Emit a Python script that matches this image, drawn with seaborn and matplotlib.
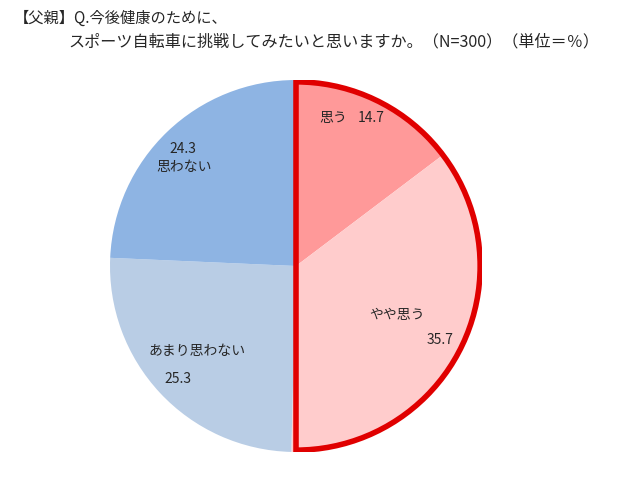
import matplotlib
matplotlib.use("Agg")
import matplotlib.pyplot as plt
from matplotlib.patches import Wedge
import seaborn as sns

# データ
labels = ["思う", "やや思う", "あまり思わない", "思わない"]
values = [14.7, 35.7, 25.3, 24.3]
colors = ["#FF9999", "#FFCCCC", "#B9CDE5", "#8EB4E3"]
title_lines = ["【父親】Q.今後健康のために、",
               "スポーツ自転車に挑戦してみたいと思いますか。（N=300）（単位＝％）"]

sns.set_theme(style="white")
plt.rcParams['font.family'] = ['Noto Sans CJK JP', 'DejaVu Sans']

# 円の中心 (296, 266) px, 半径 186 px
cx, cy, r = 296 / 640, 1 - 266 / 486, 186
fig = plt.figure(figsize=(6.4, 4.86), dpi=100)
ax = fig.add_axes([cx - r / 640, cy - r / 486, 2 * r / 640, 2 * r / 486])

ax.pie(values, colors=colors, startangle=90, counterclock=False, radius=1,
       wedgeprops=dict(linewidth=0))
ax.set_xlim(-1, 1)
ax.set_ylim(-1, 1)
ax.set_aspect('equal')
ax.axis('off')

# 「思う」+「やや思う」を赤枠で囲む
ax.add_patch(Wedge((0, 0), 0.99, -90, 90, fill=False, edgecolor="#E00000",
                   linewidth=4.0, zorder=5))

fs = 10
# ラベル位置
ax.text(0.199, 0.796, labels[0], ha="center", va="center", fontsize=fs)
ax.text(0.403, 0.796, f"{values[0]:.1f}", ha="center", va="center", fontsize=fs)
ax.text(0.543, -0.263, labels[1], ha="center", va="center", fontsize=fs)
ax.text(0.774, -0.398, f"{values[1]:.1f}", ha="center", va="center", fontsize=fs)
ax.text(-0.532, -0.457, labels[2], ha="center", va="center", fontsize=fs)
ax.text(-0.634, -0.608, f"{values[2]:.1f}", ha="center", va="center", fontsize=fs)
ax.text(-0.608, 0.629, f"{values[3]:.1f}", ha="center", va="center", fontsize=fs)
ax.text(-0.602, 0.532, labels[3], ha="center", va="center", fontsize=fs)

fig.text(14 / 640, 1 - 18 / 486, title_lines[0], ha="left", va="center", fontsize=11)
fig.text(68 / 640, 1 - 42 / 486, title_lines[1], ha="left", va="center", fontsize=11.6)

fig.savefig("out.png", dpi=100)
